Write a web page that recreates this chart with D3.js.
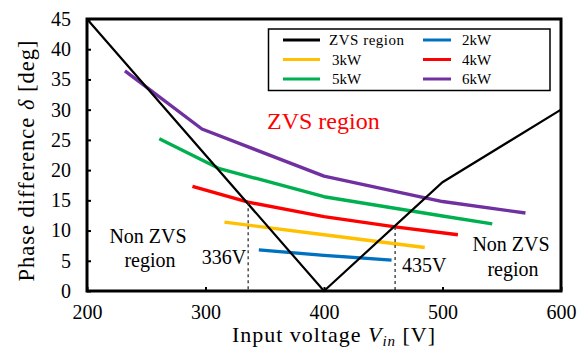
<!DOCTYPE html>
<html>
<head>
<meta charset="utf-8">
<script src="https://cdn.jsdelivr.net/npm/d3@7/dist/d3.min.js"></script>
<style>
  body { margin: 0; background: #fff; }
  svg { display: block; }
</style>
</head>
<body>
<div id="chart"></div>
<script>
// values: [input voltage V, phase difference deg]
var zvsBoundary = [[200, 45], [400, 0], [500, 18], [600, 30]];
var p2kW = [[345, 6.8], [400, 5.9], [457, 5.1]];
var p3kW = [[316, 11.4], [400, 9.3], [485, 7.2]];
var p4kW = [[289, 17.3], [336, 14.7], [400, 12.3], [460, 10.6], [513, 9.3]];
var p5kW = [[261, 25.2], [311, 20.3], [400, 15.6], [500, 12.4], [542, 11.1]];
var p6kW = [[232, 36.4], [297, 26.8], [400, 19.0], [500, 14.8], [570, 12.9]];

var legendNames = ['ZVS region', '2kW', '3kW', '4kW', '5kW', '6kW'];
var seriesColors = ['#000000', '#0070C0', '#FFC000', '#FF0000', '#00B050', '#7030A0'];

var xTicks = [200, 300, 400, 500, 600];
var yTicks = [0, 5, 10, 15, 20, 25, 30, 35, 40, 45];

// boundary crossing markers (position on axis, label)
var markerVolts = [336, 460];
var markerDeg = [14.7, 10.6];
var markerLabels = ['336V', '435V'];

var FONT = '"Liberation Serif", "Times New Roman", Times, serif';
var width = 585, height = 347;
var margin = {top: 19, right: 24, bottom: 56, left: 87};

var svg = d3.select('#chart').append('svg')
    .attr('width', width)
    .attr('height', height)
    .style('font-family', FONT);

var x = d3.scaleLinear().domain([200, 600]).range([margin.left, width - margin.right]);
var y = d3.scaleLinear().domain([0, 45]).range([height - margin.bottom, margin.top]);

var line = d3.line()
    .x(function(d) { return x(d[0]); })
    .y(function(d) { return y(d[1]); });

// axes: inward ticks, labels on all major values
var xAxis = svg.append('g')
    .attr('transform', 'translate(0,' + y(0) + ')')
    .call(d3.axisBottom(x).tickValues(xTicks).tickSize(-4).tickPadding(14));
xAxis.attr('font-family', FONT).attr('font-size', 20);
xAxis.select('.domain').remove();
xAxis.selectAll('line').attr('stroke', '#000').attr('stroke-width', 2);
xAxis.selectAll('text').style('font-family', FONT).attr('fill', '#000');

var yAxis = svg.append('g')
    .attr('transform', 'translate(' + x(200) + ',0)')
    .call(d3.axisLeft(y).tickValues(yTicks).tickSize(-4).tickPadding(16));
yAxis.attr('font-family', FONT).attr('font-size', 20);
yAxis.select('.domain').remove();
yAxis.selectAll('line').attr('stroke', '#000').attr('stroke-width', 2);
yAxis.selectAll('text').style('font-family', FONT).attr('fill', '#000');

// data series
var allSeries = [p2kW, p3kW, p4kW, p5kW, p6kW];
allSeries.forEach(function(s, i) {
  svg.append('path')
      .datum(s)
      .attr('d', line)
      .attr('fill', 'none')
      .attr('stroke', seriesColors[i + 1])
      .attr('stroke-width', 3.4)
      .attr('stroke-linejoin', 'round');
});

svg.append('path')
    .datum(zvsBoundary)
    .attr('d', line)
    .attr('fill', 'none')
    .attr('stroke', '#000')
    .attr('stroke-width', 2.2);

// dashed drop lines
markerVolts.forEach(function(v, i) {
  svg.append('line')
      .attr('x1', x(v)).attr('x2', x(v))
      .attr('y1', y(markerDeg[i])).attr('y2', y(0))
      .attr('stroke', '#333')
      .attr('stroke-width', 1.3)
      .attr('stroke-dasharray', '3,3');
});
svg.append('text')
    .attr('x', x(markerVolts[0]) - 2).attr('y', 264)
    .attr('text-anchor', 'end')
    .attr('font-size', 20)
    .text(markerLabels[0]);
svg.append('text')
    .attr('x', x(markerVolts[1]) + 7).attr('y', 272)
    .attr('font-size', 20)
    .text(markerLabels[1]);

// frame
svg.append('rect')
    .attr('x', x(200)).attr('y', y(45))
    .attr('width', x(600) - x(200))
    .attr('height', y(0) - y(45))
    .attr('fill', 'none')
    .attr('stroke', '#000')
    .attr('stroke-width', 3);

// region annotations
svg.append('text')
    .attr('x', 267).attr('y', 129)
    .attr('font-size', 24)
    .attr('fill', '#FF0000')
    .text('ZVS region');

var nonLeft = svg.append('text').attr('font-size', 20).attr('text-anchor', 'middle');
nonLeft.append('tspan').attr('x', 148).attr('y', 243).text('Non ZVS');
nonLeft.append('tspan').attr('x', 150).attr('y', 267).text('region');

var nonRight = svg.append('text').attr('font-size', 20).attr('text-anchor', 'middle');
nonRight.append('tspan').attr('x', 511).attr('y', 251).text('Non ZVS');
nonRight.append('tspan').attr('x', 513).attr('y', 276).text('region');

// legend
var legend = svg.append('g');
legend.append('rect')
    .attr('x', 268.5).attr('y', 29)
    .attr('width', 281.5).attr('height', 61.5)
    .attr('fill', '#fff')
    .attr('stroke', '#000')
    .attr('stroke-width', 1.5);

legendNames.forEach(function(name, i) {
  var col = i % 2, row = Math.floor(i / 2);
  var ly = 40 + row * 19.5;
  var lx = col === 0 ? 283 : 423;
  legend.append('line')
      .attr('x1', lx).attr('x2', lx + (col === 0 ? 37 : 28))
      .attr('y1', ly).attr('y2', ly)
      .attr('stroke', seriesColors[i])
      .attr('stroke-width', 3);
  var t = legend.append('text')
      .attr('x', col === 0 ? (i === 0 ? 329 : 332) : 462)
      .attr('y', ly + 5)
      .attr('font-size', 15)
      .text(name);
  if (i === 0) t.attr('textLength', 75).attr('lengthAdjust', 'spacing');
});

// axis titles
var xt = svg.append('text')
    .attr('x', 232).attr('y', 341.5)
    .attr('font-size', 22)
    .attr('textLength', 203)
    .attr('lengthAdjust', 'spacing');
xt.append('tspan').text('Input voltage ');
xt.append('tspan').attr('font-style', 'italic').text('V');
xt.append('tspan').attr('font-style', 'italic').attr('font-size', 15).attr('dy', 4).text('in');
xt.append('tspan').attr('dy', -4).text('  [V]');

var yt = svg.append('text')
    .attr('transform', 'translate(34,161) rotate(-90)')
    .attr('text-anchor', 'middle')
    .attr('font-size', 22.5)
    .attr('textLength', 241)
    .attr('lengthAdjust', 'spacing');
yt.append('tspan').text('Phase difference  ');
yt.append('tspan').attr('font-style', 'italic').text('δ');
yt.append('tspan').text('  [deg]');
</script>
</body>
</html>
